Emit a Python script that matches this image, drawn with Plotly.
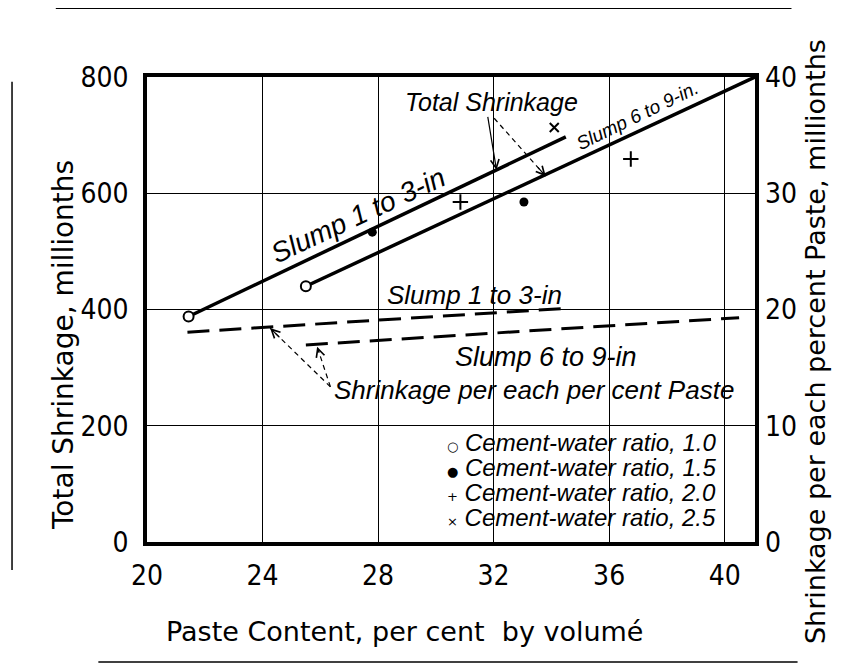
import plotly.graph_objects as go

# ---------------- data ----------------
x_ticks = [20, 24, 28, 32, 36, 40]
y_left_ticks = [0, 200, 400, 600, 800]
y_right_ticks = [0, 10, 20, 30, 40]

# Total shrinkage lines (millionths) vs paste content (%)
slump13_x = [21.44, 34.5]
slump13_y = [388, 697]
slump69_x = [25.5, 41.05]
slump69_y = [440, 800]

# Shrinkage per each percent paste (right axis)
pp13_x = [21.4, 34.5]
pp13_y = [18.05, 20.1]
pp69_x = [25.5, 40.5]
pp69_y = [16.95, 19.3]

# Observed points by cement-water ratio
ratios = ["1.0", "1.5", "2.0", "2.5"]
cw10_x = [21.44, 25.5]
cw10_y = [388, 440]
cw15_x = [27.8, 33.05]
cw15_y = [533, 585]
cw20_x = [30.85, 36.75]
cw20_y = [585, 659]
cw25_x = [34.1, 40.52]
cw25_y = [713, 805]

TICKFONT = "DejaVu Sans Condensed, Liberation Sans Narrow, sans-serif"
TEXTFONT = "Liberation Sans, Arial, sans-serif"
TITLEFONT = "DejaVu Sans, sans-serif"

fig = go.Figure()

# solid total-shrinkage lines
for xs, ys in [(slump13_x, slump13_y), (slump69_x, slump69_y)]:
    fig.add_trace(go.Scatter(x=xs, y=ys, mode="lines",
                             line=dict(color="black", width=3.5),
                             showlegend=False, hoverinfo="skip"))

# dashed per-percent lines on the right axis
for xs, ys in [(pp13_x, pp13_y), (pp69_x, pp69_y)]:
    fig.add_trace(go.Scatter(x=xs, y=ys, mode="lines", yaxis="y2",
                             line=dict(color="black", width=3, dash="22px,10px"),
                             showlegend=False, hoverinfo="skip"))

# markers
marker_specs = [
    (cw10_x, cw10_y, dict(symbol="circle", size=10, color="white",
                          line=dict(color="black", width=2))),
    (cw15_x, cw15_y, dict(symbol="circle", size=9, color="black",
                          line=dict(color="black", width=0))),
    (cw20_x, cw20_y, dict(symbol="cross-thin", size=11,
                          line=dict(color="black", width=2))),
    (cw25_x, cw25_y, dict(symbol="x-thin", size=9,
                          line=dict(color="black", width=2))),
]
for (xs, ys, mk), r in zip(marker_specs, ratios):
    fig.add_trace(go.Scatter(x=xs, y=ys, mode="markers", marker=mk,
                             name=f"Cement-water ratio, {r}",
                             cliponaxis=False, showlegend=False))

ann = []

def txt(x, y, s, size, angle=0, xanchor="center", xref="x", yref="y"):
    ann.append(dict(x=x, y=y, xref=xref, yref=yref, text=s, showarrow=False,
                    textangle=angle, xanchor=xanchor, yanchor="middle",
                    font=dict(family=TEXTFONT, size=size, color="black", style="italic")))

txt(31.94, 757, "Total Shrinkage", 25)
txt(27.29, 562, "Slump 1 to 3-in", 28, angle=-25)
txt(36.98, 733, "Slump 6 to 9-in.", 19, angle=-26)
txt(31.35, 425, "Slump 1 to 3-in", 26)
txt(33.82, 319, "Slump 6 to 9-in", 27)
txt(33.39, 261, "Shrinkage per each per cent Paste", 26)

# legend as text block
glyphs = ["\u25CB", "\u25CF", "+", "\u00D7"]
leg_y = [172, 129, 86, 43]
for g, r, yy in zip(glyphs, ratios, leg_y):
    ann.append(dict(x=30.31, y=yy, xref="x", yref="y", showarrow=False,
                    xanchor="left", yanchor="middle",
                    text=f"<span style='font-family:DejaVu Sans;font-style:normal;font-size:13px'>{g}</span> Cement-water ratio, {r}",
                    font=dict(family=TEXTFONT, size=24, color="black", style="italic")))

# arrows: (tail_x, tail_y, head_x, head_y, dashed)
arrows = [
    (31.79, 734, 32.10, 640, False),
    (32.02, 729, 33.81, 629, True),
    (26.35, 267, 24.26, 368, True),
    (26.35, 267, 25.89, 336, True),
]
shapes = []
for tx, ty, hx, hy, dashed in arrows:
    if dashed:
        shapes.append(dict(type="line", xref="x", yref="y", x0=tx, y0=ty, x1=hx, y1=hy,
                           line=dict(color="black", width=1.2, dash="5px,4px")))
        ax = hx + 0.18 * (tx - hx)
        ay = hy + 0.18 * (ty - hy)
    else:
        ax, ay = tx, ty
    ann.append(dict(x=hx, y=hy, xref="x", yref="y", ax=ax, ay=ay, axref="x", ayref="y",
                    text="", showarrow=True, arrowhead=5, arrowsize=1.4,
                    arrowwidth=1.2, arrowcolor="black"))

# axis titles
ann.append(dict(x=-0.1365, y=0.4237, xref="paper", yref="paper", showarrow=False,
                text="Total Shrinkage, millionths", textangle=-90,
                xanchor="center", yanchor="middle",
                font=dict(family=TITLEFONT, size=28, color="black")))
ann.append(dict(x=1.0987, y=0.43, xref="paper", yref="paper", showarrow=False,
                text="Shrinkage per each percent Paste, millionths", textangle=-90,
                xanchor="center", yanchor="middle",
                font=dict(family=TITLEFONT, size=27, color="black")))
ann.append(dict(x=0.4227, y=-0.1914, xref="paper", yref="paper", showarrow=False,
                text="Paste Content, per cent&nbsp; by volumé",
                xanchor="center", yanchor="middle",
                font=dict(family=TITLEFONT, size=27, color="black")))

# page frame lines (scan border)
for x0, y0, x1, y1 in [(-0.15, 1.148, 1.06, 1.148), (-0.222, 0.99, -0.222, -0.06),
                       (1.172, 0.35, 1.172, -0.13), (-0.08, -0.258, 1.07, -0.258)]:
    shapes.append(dict(type="line", xref="paper", yref="paper", x0=x0, y0=y0, x1=x1, y1=y1,
                       line=dict(color="black", width=1.5)))

# The page body has an 8px default margin; the figure is sized so it fits the
# 863x666 window without scrolling and the plot area lands at x 147-755, y 77-542.
fig.update_layout(
    width=855, height=658, autosize=False,
    margin=dict(l=139, r=108, t=69, b=124),
    paper_bgcolor="white", plot_bgcolor="white",
    annotations=ann, shapes=shapes, showlegend=False,
    xaxis=dict(range=[20, 41.05], tickvals=x_ticks, showgrid=True, gridcolor="black",
               gridwidth=1, showline=True, linecolor="black", linewidth=3.5, mirror=True,
               ticks="", zeroline=False, ticklabelstandoff=6,
               tickfont=dict(family=TICKFONT, size=28, color="black")),
    yaxis=dict(range=[0, 800], tickvals=y_left_ticks, showgrid=True, gridcolor="black",
               gridwidth=1, showline=True, linecolor="black", linewidth=3.5, mirror=True,
               ticks="", zeroline=False, ticklabelstandoff=9,
               tickfont=dict(family=TICKFONT, size=28, color="black")),
    yaxis2=dict(range=[0, 40], tickvals=y_right_ticks, overlaying="y", side="right",
                showgrid=False, showline=False, ticks="", zeroline=False, ticklabelstandoff=9,
                tickfont=dict(family=TICKFONT, size=28, color="black")),
)

fig.write_html("out.html")
